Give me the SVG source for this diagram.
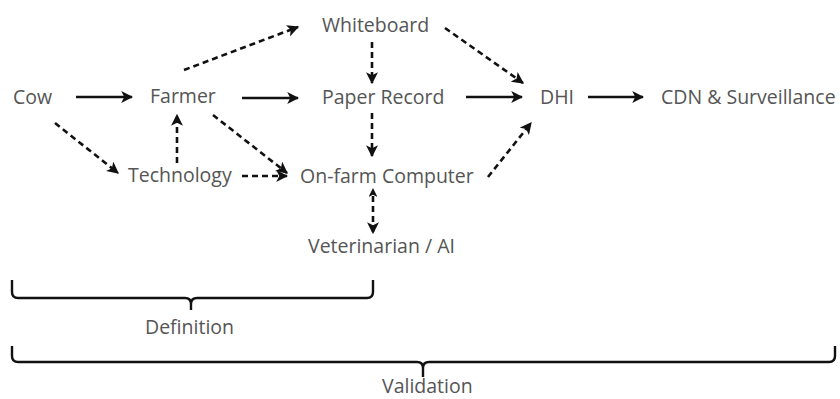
<svg xmlns="http://www.w3.org/2000/svg" width="840" height="399" viewBox="0 0 840 399">
<style>
text{font-family:"Open Sans","Liberation Sans",sans-serif;font-size:19.5px;fill:#555;dominant-baseline:central}
.s{stroke:#111;stroke-width:2.6;fill:none}
.d{stroke:#111;stroke-width:2.6;fill:none;stroke-dasharray:6 4}
.b{stroke:#111;stroke-width:2.4;fill:none}
</style>
<defs>
<marker id="ah" viewBox="0 0 10 10" refX="9" refY="5" markerWidth="4.6" markerHeight="4.6" orient="auto" markerUnits="strokeWidth">
<path d="M0,0 L10,5 L0,10 L2.5,5 Z" fill="#111"/>
</marker>
<marker id="as" viewBox="0 0 10 10" refX="1" refY="5" markerWidth="3.4" markerHeight="3.4" orient="auto-start-reverse" markerUnits="strokeWidth">
<path d="M0,0 L10,5 L0,10 L2.5,5 Z" fill="#111"/>
</marker>
</defs>
<rect width="840" height="399" fill="#fff"/>
<g id="cow"><text x="13" y="96">Cow</text></g>
<g id="farmer"><text x="150" y="95">Farmer</text></g>
<g id="whiteboard"><text x="322" y="24">Whiteboard</text></g>
<g id="paper"><text x="322" y="96">Paper Record</text></g>
<g id="dhi"><text x="540" y="96">DHI</text></g>
<g id="cdn"><text x="661" y="96">CDN &amp; Surveillance</text></g>
<g id="technology"><text x="128" y="174">Technology</text></g>
<g id="onfarm"><text x="300" y="175">On-farm Computer</text></g>
<g id="vet"><text x="308" y="245">Veterinarian / AI</text></g>
<g id="connectors">
<line class="s" x1="76" y1="97" x2="132" y2="97" marker-end="url(#ah)"/>
<line class="s" x1="242" y1="98" x2="298" y2="98" marker-end="url(#ah)"/>
<line class="s" x1="466" y1="97" x2="522" y2="97" marker-end="url(#ah)"/>
<line class="s" x1="588" y1="97" x2="643" y2="97" marker-end="url(#ah)"/>
<line class="d" x1="184" y1="70" x2="298" y2="27" marker-end="url(#ah)"/>
<line class="d" x1="372" y1="42" x2="372" y2="83" marker-end="url(#ah)"/>
<line class="d" x1="445" y1="28" x2="523" y2="83" marker-end="url(#ah)"/>
<line class="d" x1="372" y1="113" x2="372" y2="156" marker-end="url(#ah)"/>
<line class="d" x1="55" y1="123" x2="118" y2="173" marker-end="url(#ah)"/>
<line class="d" x1="177" y1="163" x2="177" y2="115" marker-end="url(#ah)"/>
<line class="d" x1="213" y1="115" x2="287" y2="173" marker-end="url(#ah)"/>
<line class="d" x1="242" y1="176" x2="287" y2="176" marker-end="url(#ah)"/>
<line class="d" x1="488" y1="177" x2="531" y2="123" marker-end="url(#ah)"/>
<line class="d" x1="373" y1="196" x2="373" y2="233" marker-start="url(#as)" marker-end="url(#ah)"/>
</g>
<g id="definition">
<path class="b" d="M12,280 V292 Q12,298 18,298 H185 Q191,298 191,304 V310 M191,304 Q191,298 197,298 H367 Q373,298 373,292 V280"/>
<text x="145" y="326">Definition</text>
</g>
<g id="validation">
<path class="b" d="M12,346 V356 Q12,362 18,362 H417 Q423,362 423,368 V377 M423,368 Q423,362 429,362 H829 Q835,362 835,356 V346"/>
<text x="382" y="385">Validation</text>
</g>
</svg>
